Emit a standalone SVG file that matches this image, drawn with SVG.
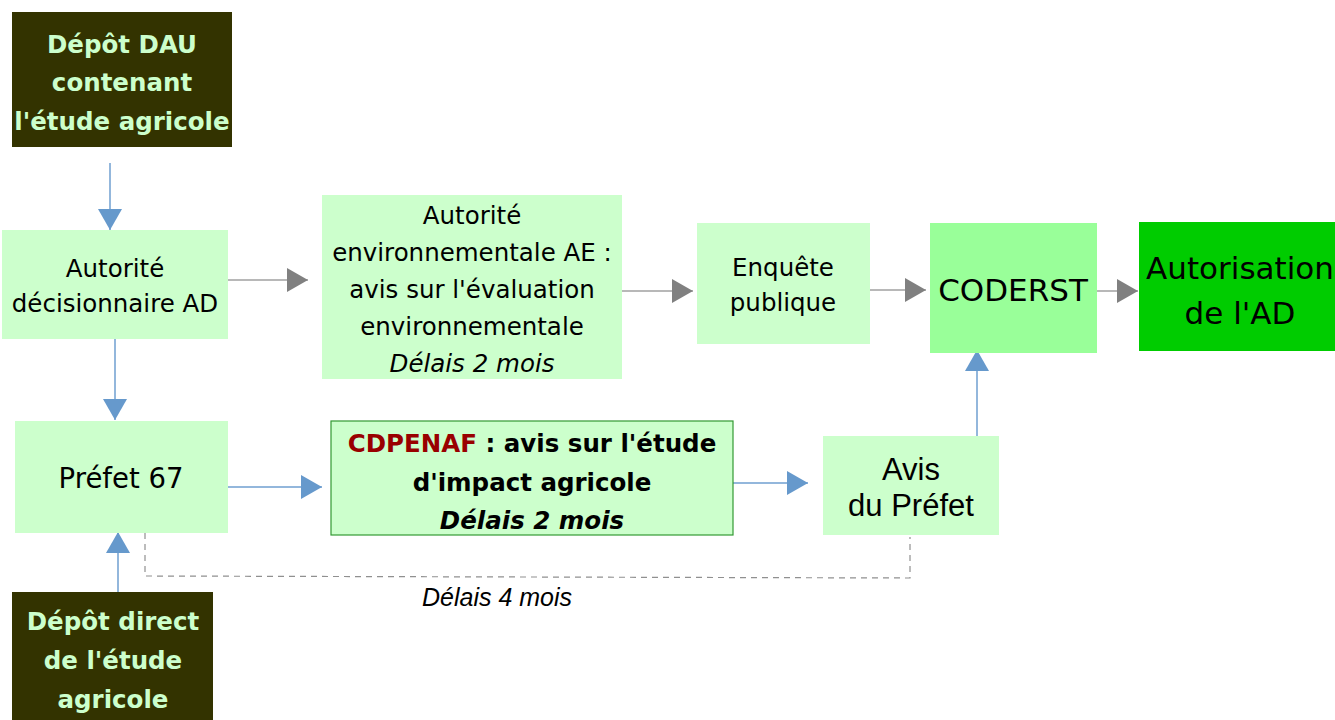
<svg xmlns="http://www.w3.org/2000/svg" width="1335" height="720" viewBox="0 0 1335 720">
<style>
.dark{fill:#333300}
.light{fill:#ccffcc}
.t{font-family:"DejaVu Sans",sans-serif;font-size:24.5px;fill:#000;text-anchor:middle}
.tw{font-family:"DejaVu Sans",sans-serif;font-size:24.5px;font-weight:bold;fill:#ccffcc;text-anchor:middle}
.tb{font-family:"DejaVu Sans",sans-serif;font-size:24.5px;font-weight:bold;fill:#000;text-anchor:middle}
.ta{font-family:"Liberation Sans",Arial,sans-serif;fill:#000;text-anchor:middle}
.big{font-family:"DejaVu Sans",sans-serif;font-size:31px;fill:#000;text-anchor:middle}
.blue{stroke:#6f9fd0;stroke-width:1.5;fill:none}
.grey{stroke:#a0a0a0;stroke-width:1.5;fill:none}
</style>
<defs>
<marker id="ab" markerUnits="userSpaceOnUse" markerWidth="22" markerHeight="26" refX="21" refY="12" orient="auto"><path d="M0,0 L21,12 L0,24 Z" fill="#6699cc"/></marker>
<marker id="ag" markerUnits="userSpaceOnUse" markerWidth="22" markerHeight="26" refX="21" refY="12" orient="auto"><path d="M0,0 L21,12 L0,24 Z" fill="#808080"/></marker>
</defs>
<rect width="1335" height="720" fill="#ffffff"/>
<g id="connectors">
<line class="blue" x1="110" y1="163" x2="110" y2="230" marker-end="url(#ab)"/>
<line class="grey" x1="228" y1="280" x2="308" y2="280" marker-end="url(#ag)"/>
<line class="grey" x1="622" y1="291" x2="693" y2="291" marker-end="url(#ag)"/>
<line class="grey" x1="870" y1="290" x2="926" y2="290" marker-end="url(#ag)"/>
<line class="grey" x1="1097" y1="291" x2="1138" y2="291" marker-end="url(#ag)"/>
<line class="blue" x1="115" y1="339" x2="115" y2="420" marker-end="url(#ab)"/>
<line class="blue" x1="228" y1="487" x2="322" y2="487" marker-end="url(#ab)"/>
<line class="blue" x1="733" y1="483" x2="808" y2="483" marker-end="url(#ab)"/>
<line class="blue" x1="977" y1="436" x2="977" y2="350" marker-end="url(#ab)"/>
<line class="blue" x1="118" y1="592" x2="118" y2="532" marker-end="url(#ab)"/>
<path d="M145,533 L145,576 L910,578 L910,537" fill="none" stroke="#909090" stroke-width="1.2" stroke-dasharray="6,5"/>
<text class="ta" x="497" y="606" font-size="25" font-style="italic">Délais 4 mois</text>
</g>
<g id="depot-dau">
<rect class="dark" x="12" y="12" width="220" height="135"/>
<text class="tw" x="122" y="53">Dépôt DAU</text>
<text class="tw" x="122" y="91">contenant</text>
<text class="tw" x="122" y="130">l'étude agricole</text>
</g>
<g id="ad">
<rect class="light" x="2" y="230" width="226" height="109"/>
<text class="t" x="115" y="277">Autorité</text>
<text class="t" x="115" y="312">décisionnaire AD</text>
</g>
<g id="ae">
<rect class="light" x="322" y="195" width="300" height="184"/>
<text class="t" x="472" y="224">Autorité</text>
<text class="t" x="472" y="261">environnementale AE :</text>
<text class="t" x="472" y="298">avis sur l'évaluation</text>
<text class="t" x="472" y="335">environnementale</text>
<text class="t" x="472" y="372" font-style="italic">Délais 2 mois</text>
</g>
<g id="enquete">
<rect class="light" x="697" y="223" width="173" height="121"/>
<text class="t" x="783" y="276">Enquête</text>
<text class="t" x="783" y="311">publique</text>
</g>
<g id="coderst">
<rect x="930" y="223" width="167" height="130" fill="#99ff99"/>
<text class="big" x="1013" y="301">CODERST</text>
</g>
<g id="autorisation">
<rect x="1139" y="222" width="196" height="129" fill="#00cc00"/>
<text class="big" x="1240" y="279">Autorisation</text>
<text class="big" x="1240" y="324">de l'AD</text>
</g>
<g id="prefet67">
<rect class="light" x="15" y="421" width="213" height="112"/>
<text class="t" x="121" y="488" style="font-size:27.5px">Préfet 67</text>
</g>
<g id="cdpenaf">
<rect class="light" x="331" y="421" width="402" height="114" stroke="#339933" stroke-width="1.2"/>
<text class="tb" x="532" y="452"><tspan fill="#990000">CDPENAF</tspan> : avis sur l'étude</text>
<text class="tb" x="532" y="491">d'impact agricole</text>
<text class="tb" x="532" y="529" font-style="italic">Délais 2 mois</text>
</g>
<g id="avis-prefet">
<rect class="light" x="823" y="436" width="176" height="99"/>
<text class="ta" x="911" y="480" font-size="31">Avis</text>
<text class="ta" x="911" y="516" font-size="31">du Préfet</text>
</g>
<g id="depot-direct">
<rect class="dark" x="12" y="592" width="201" height="128"/>
<text class="tw" x="113" y="630">Dépôt direct</text>
<text class="tw" x="113" y="669">de l'étude</text>
<text class="tw" x="113" y="708">agricole</text>
</g>
</svg>
